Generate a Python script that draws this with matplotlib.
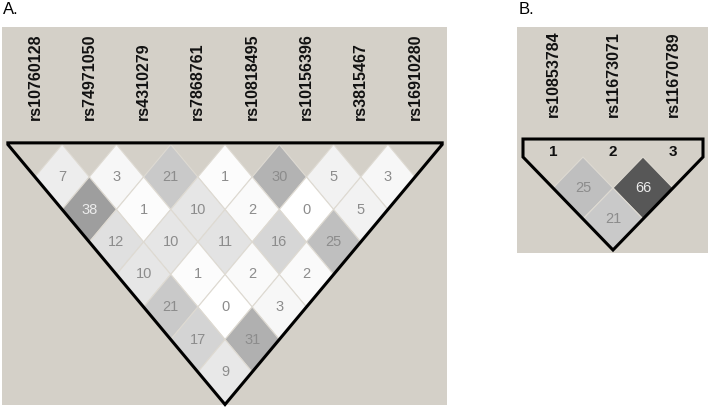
import matplotlib.pyplot as plt
from matplotlib.patches import Polygon

plt.rcParams['font.family'] = ['Liberation Sans', 'DejaVu Sans']

W, H = 709, 407
BG = '#d4d0c8'

# panel A
snps_a = ['rs10760128', 'rs74971050', 'rs4310279', 'rs7868761',
          'rs10818495', 'rs10156396', 'rs3815467', 'rs16910280']
# r2 x100, row k = pairs k markers apart
r2_a = [
    [7, 3, 21, 1, 30, 5, 3],
    [38, 1, 10, 2, 0, 5],
    [12, 10, 11, 16, 25],
    [10, 1, 2, 2],
    [21, 0, 3],
    [17, 31],
    [9],
]

# panel B
snps_b = ['rs10853784', 'rs11673071', 'rs11670789']
r2_b = [
    [25, 66],
    [21],
]
marker_nums_b = ['1', '2', '3']


def make_axes(fig, box, x0, y0, sx, sy):
    # box = gray area in pixels (left, top, right, bottom)
    l, t, r, b = box
    ax = fig.add_axes([l / W, 1 - b / H, (r - l) / W, (b - t) / H])
    ax.set_xlim((l - x0) / sx, (r - x0) / sx)
    ax.set_ylim((y0 - b) / sy, (y0 - t) / sy)
    ax.set_facecolor(BG)
    ax.set_xticks([])
    ax.set_yticks([])
    for s in ax.spines.values():
        s.set_visible(False)
    return ax


def draw_ld(ax, snps, r2, label_y, header, numbers=None, num_y=0.0):
    n = len(snps)
    for d, row in enumerate(r2, start=1):
        for i, v in enumerate(row):
            cx, cy = i + d / 2, -d
            g = 1 - v / 100
            ax.add_patch(Polygon([(cx, cy + 1), (cx + 0.5, cy), (cx, cy - 1), (cx - 0.5, cy)],
                                 closed=True, facecolor=(g, g, g), edgecolor='#dedad2',
                                 lw=0.8, zorder=2))
            ax.text(cx, cy, str(v), ha='center', va='center', fontsize=10.5,
                    color='#ececec' if v > 35 else '#8c8c8c', zorder=3)

    apex = (n - 1) / 2
    outline = [(-0.5, header), (n - 0.5, header), (n - 0.5, 0), (apex, -n), (-0.5, 0)]
    ax.add_patch(Polygon(outline, closed=True, fill=False, edgecolor='black',
                         lw=2.2, joinstyle='miter', zorder=4, clip_on=False))

    for i, name in enumerate(snps):
        ax.text(i, label_y, name, rotation=90, ha='center', va='bottom',
                fontsize=11.5, fontweight='bold', color='#111111')
    if numbers:
        for i, s in enumerate(numbers):
            ax.text(i, num_y, s, ha='center', va='center', fontsize=11,
                    fontweight='bold', color='#111111', zorder=5)


fig = plt.figure(figsize=(W / 100, H / 100), dpi=100)
fig.patch.set_facecolor('white')

ax_a = make_axes(fig, (2, 27, 447, 405), x0=35, y0=144.5, sx=54.29, sy=32.5)
draw_ld(ax_a, snps_a, r2_a, label_y=0.75, header=0.05)

ax_b = make_axes(fig, (517, 27, 708, 253), x0=553, y0=157, sx=60, sy=31)
draw_ld(ax_b, snps_b, r2_b, label_y=1.29, header=0.58,
        numbers=marker_nums_b, num_y=0.17)

fig.text(3 / W, 1 - 2 / H, 'A.', ha='left', va='top', fontsize=12)
fig.text(519 / W, 1 - 2 / H, 'B.', ha='left', va='top', fontsize=12)

fig.savefig('out.png', dpi=100)
